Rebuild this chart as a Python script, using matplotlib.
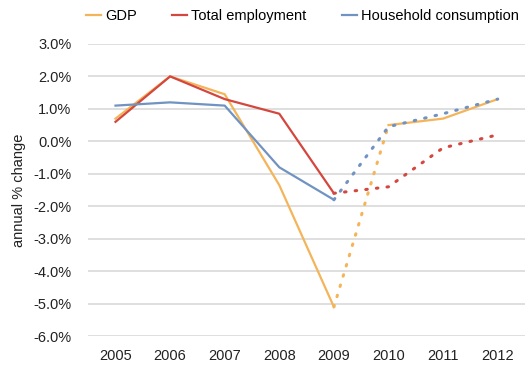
import numpy as np
import matplotlib
matplotlib.use("Agg")
import matplotlib.pyplot as plt

plt.rcParams['font.family'] = ['Liberation Sans', 'DejaVu Sans']

years = ["2005", "2006", "2007", "2008", "2009", "2010", "2011", "2012"]
yticks = [3, 2, 1, 0, -1, -2, -3, -4, -5, -6]

# observed values 2005-2009
gdp_actual = [0.7, 2.0, 1.45, -1.35, -5.1]
emp_actual = [0.6, 2.0, 1.3, 0.85, -1.6]
cons_actual = [1.1, 1.2, 1.1, -0.8, -1.8]

# projections 2009-2012
gdp_proj = [-5.1, 0.5, 0.7, 1.3]
emp_proj = [-1.6, -1.4, -0.2, 0.2]
cons_proj = [-1.8, 0.45, 0.85, 1.3]

c_gdp = "#f4b55a"
c_emp = "#d4473f"
c_cons = "#7093c2"

fig = plt.figure(figsize=(5.25, 3.69), dpi=100)
ax = fig.add_axes([0.168, 0.089, 0.832, 0.792])

x = np.arange(len(years))
xa = x[:5]
xp = x[4:]

dot = dict(linestyle=(0, (0.5, 3.0)), linewidth=2.2, dash_capstyle="round")

ax.plot(xp[:2], gdp_proj[:2], color=c_gdp, **dot, zorder=3)
ax.plot(xp, emp_proj, color=c_emp, **dot, zorder=3)
ax.plot(xa, gdp_actual, color=c_gdp, linewidth=1.6, label="GDP", zorder=4)
ax.plot(xp[1:], gdp_proj[1:], color=c_gdp, linewidth=1.6, zorder=4)
ax.plot(xa, emp_actual, color=c_emp, linewidth=1.6, label="Total employment", zorder=4)
ax.plot(xa, cons_actual, color=c_cons, linewidth=1.6, label="Household consumption", zorder=4)
ax.plot(xp, cons_proj, color=c_cons, **dot, zorder=5)

ax.set_xlim(-0.5, 7.5)
ax.set_ylim(-6, 3)
ax.set_xticks(x)
ax.set_xticklabels(years, fontsize=10.5)
ax.set_yticks(yticks)
ax.set_yticklabels([f"{v:.1f}%" for v in yticks], fontsize=10.5)
ax.tick_params(length=0, colors="#222222")
ax.tick_params(axis="x", pad=9)
ax.tick_params(axis="y", pad=12)
ax.grid(axis="y", color="#d9d9d9", linewidth=1.2)
ax.set_axisbelow(True)
for s in ax.spines.values():
    s.set_visible(False)
ax.set_ylabel("annual % change", fontsize=10.5, color="#222222", labelpad=5)

ax.legend(loc="center left", bbox_to_anchor=(-0.005, 1.095), ncol=3, frameon=False,
          fontsize=10.5, handlelength=1.0, handletextpad=0.3, columnspacing=2.45,
          borderaxespad=0, borderpad=0)

fig.savefig("out.png", dpi=100)
